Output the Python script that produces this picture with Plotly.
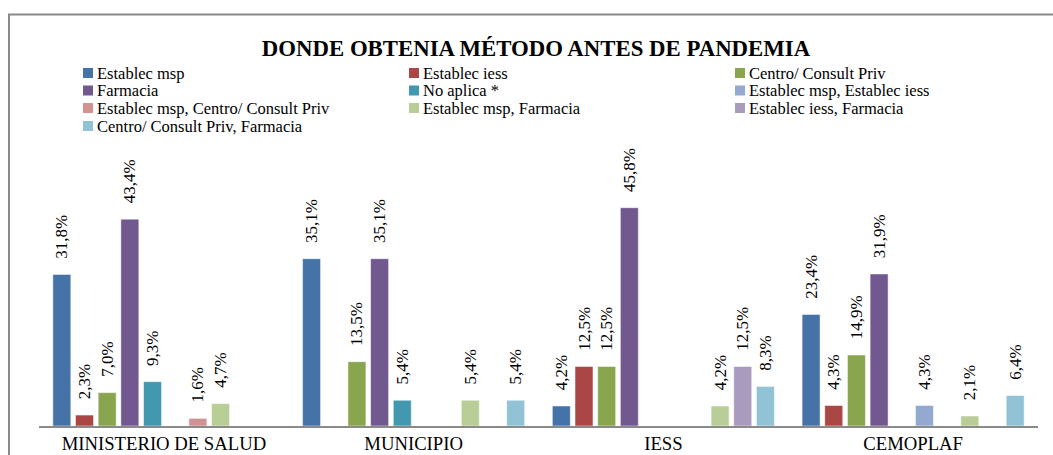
import plotly.graph_objects as go

categories = ["MINISTERIO DE SALUD", "MUNICIPIO", "IESS", "CEMOPLAF"]

series_names = [
    "Establec msp",
    "Establec iess",
    "Centro/ Consult Priv",
    "Farmacia",
    "No aplica *",
    "Establec msp, Establec iess",
    "Establec msp, Centro/ Consult Priv",
    "Establec msp, Farmacia",
    "Establec iess, Farmacia",
    "Centro/ Consult Priv, Farmacia",
]

establec_msp = [31.8, 35.1, 4.2, 23.4]
establec_iess = [2.3, 0, 12.5, 4.3]
centro_consult_priv = [7.0, 13.5, 12.5, 14.9]
farmacia = [43.4, 35.1, 45.8, 31.9]
no_aplica = [9.3, 5.4, 0, 0]
msp_iess = [0, 0, 0, 4.3]
msp_centro = [1.6, 0, 0, 0]
msp_farmacia = [4.7, 5.4, 4.2, 2.1]
iess_farmacia = [0, 0, 12.5, 0]
centro_farmacia = [0, 5.4, 8.3, 6.4]

series_values = [
    establec_msp, establec_iess, centro_consult_priv, farmacia, no_aplica,
    msp_iess, msp_centro, msp_farmacia, iess_farmacia, centro_farmacia,
]

colors = [
    "#4572A7", "#AA4643", "#89A54E", "#71588F", "#4198AF",
    "#93A9CF", "#D19392", "#B9CD96", "#A99BBD", "#92C3D5",
]

FONT = "Liberation Serif"
W, H = 1053, 455
ML, MR, MT, MB = 39, 15, 140, 29
PL, PR, PT, PB = ML, W - MR, MT, H - MB


def px2x(px):
    return (px - PL) / (PR - PL)


def py2y(py):
    return (PB - py) / (PB - PT)


def label(v):
    if v <= 0:
        return ""
    return "\u00a0\u00a0\u00a0" + f"{v:.1f}%".replace(".", ",")


fig = go.Figure()
for name, vals, col in zip(series_names, series_values, colors):
    fig.add_trace(go.Bar(
        name=name,
        x=categories,
        y=vals,
        marker=dict(color=col, line=dict(color="rgba(255,255,255,0.5)", width=1)),
        text=[label(v) for v in vals],
        textposition="outside",
        textangle=-90,
        constraintext="none",
        cliponaxis=False,
        textfont=dict(family=FONT, size=17, color="black"),
        showlegend=False,
        hoverinfo="skip",
    ))

# manual legend (3 columns, row-major like the original)
col_sw = [83, 409, 735]
col_tx = [96, 422, 748]
row_y = [73, 90.5, 108, 126]
annotations = []
shapes = []
for i, (name, col) in enumerate(zip(series_names, colors)):
    c, r = i % 3, i // 3
    yc = row_y[r]
    shapes.append(dict(
        type="rect", xref="paper", yref="paper",
        x0=px2x(col_sw[c]), x1=px2x(col_sw[c] + 10),
        y0=py2y(yc + 5), y1=py2y(yc - 5),
        fillcolor=col, line=dict(width=0),
    ))
    annotations.append(dict(
        xref="paper", yref="paper", x=px2x(col_tx[c]), y=py2y(yc),
        xanchor="left", yanchor="middle", showarrow=False, borderpad=0,
        text=name, font=dict(family=FONT, size=16.5, color="black"),
    ))

# outer chart frame
shapes.append(dict(
    type="rect", xref="paper", yref="paper",
    x0=px2x(9), x1=px2x(1070), y0=py2y(480), y1=py2y(14.5),
    line=dict(color="#8a8a8a", width=2), fillcolor="rgba(0,0,0,0)", layer="below",
))

fig.update_layout(
    width=W, height=H,
    margin=dict(l=ML, r=MR, t=MT, b=MB, pad=0),
    paper_bgcolor="white", plot_bgcolor="white",
    barmode="group", bargap=0.092, bargroupgap=0.207,
    hovermode=False,
    title=dict(
        text="<b>DONDE OBTENIA MÉTODO ANTES DE PANDEMIA</b>",
        font=dict(family=FONT, size=22.8, color="black"),
        x=536 / W, xref="container", xanchor="center",
        y=1 - 48 / H, yref="container", yanchor="middle",
    ),
    xaxis=dict(
        showline=True, linecolor="#8a8a8a", linewidth=2,
        ticks="", showgrid=False, automargin=False,
        tickfont=dict(family=FONT, size=18.7, color="black"),
    ),
    yaxis=dict(
        range=[0, 60], visible=False, showgrid=False, zeroline=False,
    ),
    shapes=shapes,
    annotations=annotations,
    font=dict(family=FONT, color="black"),
)

fig.write_html(
    "out.html",
    config={"displayModeBar": False},
    post_script="document.body.style.margin='0';document.body.style.overflow='hidden';",
)
